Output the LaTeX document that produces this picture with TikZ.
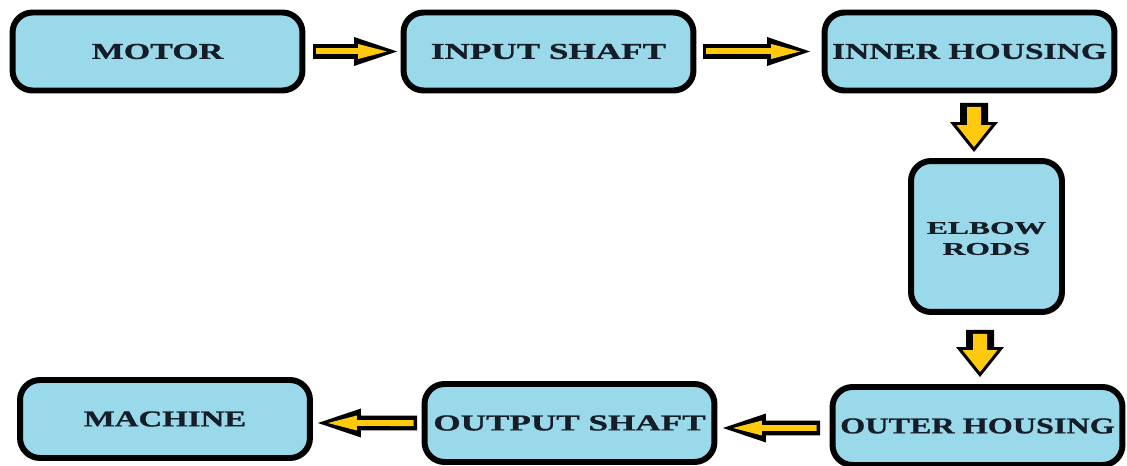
\documentclass[tikz,border=0pt]{standalone}
\usepackage{graphicx}
\usepackage{fontspec}
\setmainfont{Liberation Serif}[BoldFeatures={FakeBold=0.8}]
\usetikzlibrary{arrows.meta}

\definecolor{boxblue}{RGB}{153,217,234}
\definecolor{arrowgold}{RGB}{255,201,14}
\definecolor{inkdark}{RGB}{22,28,40}
\newcommand{\widetext}[2][1.5]{\scalebox{#1}[1]{#2}}

\begin{document}
\begin{tikzpicture}[x=0.02cm, y=-0.02cm,
    block/.style={draw=black, line width=3.4pt, fill=boxblue, rounded corners=0.4cm,
        minimum width=5.8cm, minimum height=1.56cm, inner sep=0pt, text=inkdark,
        font=\fontsize{12.9}{15}\selectfont\bfseries},
    sideout/.style={draw=black, line width=0.3cm,
        -{Triangle[length=0.86cm,width=0.58cm,line width=0pt]}},
    sidein/.style={draw=arrowgold, line width=0.12cm, shorten <=0.07cm, shorten >=0.2cm,
        -{Triangle[length=0.58cm,width=0.3cm,line width=0pt]}},
    downout/.style={draw=black, line width=0.56cm,
        -{Triangle[length=0.6cm,width=0.96cm,line width=0pt]}},
    downin/.style={draw=arrowgold, line width=0.28cm, shorten <=0.08cm, shorten >=0.1cm,
        -{Triangle[length=0.44cm,width=0.7cm,line width=0pt]}}]
    \useasboundingbox (0,0) rectangle (1127,466);

    % blocks
    \node[block] (motor) at (157.5,51.5) {\widetext{MOTOR}};
    \node[block] (input) at (548.5,51.5) {\widetext[1.55]{INPUT SHAFT}};
    \node[block] (inner) at (969.5,51.5) {\widetext[1.48]{INNER HOUSING}};
    \node[block, minimum width=3.02cm, minimum height=3.02cm, align=center,
        font=\fontsize{10.2}{11.9}\selectfont\bfseries] (elbow) at (986.5,236.5)
        {\\[-0.1cm]\widetext[1.76]{ELBOW}\\\widetext[1.76]{RODS}};
    \node[block] (outer) at (977.5,426) {\widetext[1.42]{OUTER HOUSING}};
    \node[block] (output) at (569.5,423) {\widetext[1.55]{OUTPUT SHAFT}};
    \node[block] (machine) at (165,419) {\widetext[1.45]{MACHINE}};

    % top row
    \draw[sideout] ([xshift=0.15cm]motor.east) -- ([xshift=-0.07cm]input.west);
    \draw[sidein]  ([xshift=0.15cm]motor.east) -- ([xshift=-0.07cm]input.west);
    \draw[sideout] ([xshift=0.13cm]input.east) -- ([xshift=-0.23cm]inner.west);
    \draw[sidein]  ([xshift=0.13cm]input.east) -- ([xshift=-0.23cm]inner.west);

    % right column
    \draw[downout] ([xshift=0.09cm,yshift=-0.19cm]inner.south) -- ([xshift=-0.25cm,yshift=0.12cm]elbow.north);
    \draw[downin]  ([xshift=0.09cm,yshift=-0.19cm]inner.south) -- ([xshift=-0.25cm,yshift=0.12cm]elbow.north);
    \draw[downout] ([xshift=-0.13cm,yshift=-0.3cm]elbow.south) -- ([xshift=0.05cm,yshift=0.14cm]outer.north);
    \draw[downin]  ([xshift=-0.13cm,yshift=-0.3cm]elbow.south) -- ([xshift=0.05cm,yshift=0.14cm]outer.north);

    % bottom row
    \draw[sideout] ([xshift=-0.19cm,yshift=-0.04cm]outer.west) -- ([xshift=0.11cm,yshift=-0.1cm]output.east);
    \draw[sidein]  ([xshift=-0.19cm,yshift=-0.04cm]outer.west) -- ([xshift=0.11cm,yshift=-0.1cm]output.east);
    \draw[sideout] ([xshift=-0.09cm]output.west) -- ([xshift=0.1cm,yshift=-0.08cm]machine.east);
    \draw[sidein]  ([xshift=-0.09cm]output.west) -- ([xshift=0.1cm,yshift=-0.08cm]machine.east);
\end{tikzpicture}
\end{document}
